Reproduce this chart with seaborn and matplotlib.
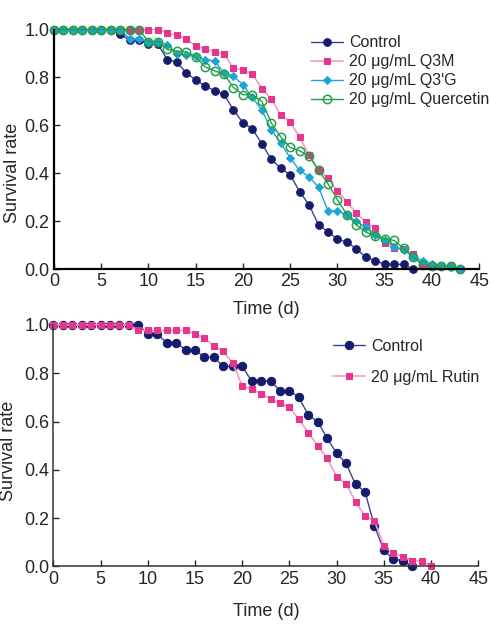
import numpy as np
import pandas as pd
import matplotlib
matplotlib.use("Agg")
import matplotlib.pyplot as plt
import seaborn as sns

# --- data (survival rate per day) ---
days_a = [0, 1, 2, 3, 4, 5, 6, 7, 8, 9, 10, 11, 12, 13, 14, 15, 16, 17, 18, 19, 20, 21,
          22, 23, 24, 25, 26, 27, 28, 29, 30, 31, 32, 33, 34, 35, 36, 37, 38, 39, 40, 41, 42, 43]

control_a = [1.0, 1.0, 1.0, 1.0, 1.0, 1.0, 1.0, 0.98, 0.958, 0.958, 0.938, 0.938, 0.875,
             0.864, 0.82, 0.79, 0.765, 0.745, 0.73, 0.664, 0.612, 0.585, 0.524, 0.458,
             0.422, 0.393, 0.324, 0.268, 0.185, 0.157, 0.125, 0.113, 0.085, 0.05, 0.036,
             0.02, 0.02, 0.02, 0.0]

q3m = [1.0, 1.0, 1.0, 1.0, 1.0, 1.0, 1.0, 1.0, 1.0, 1.0, 1.0, 1.0, 0.986, 0.976, 0.962,
       0.93, 0.92, 0.907, 0.897, 0.84, 0.83, 0.815, 0.754, 0.71, 0.643, 0.615, 0.55, 0.476,
       0.414, 0.38, 0.326, 0.282, 0.233, 0.196, 0.171, 0.108, 0.088, 0.083, 0.062, 0.018,
       0.016, 0.014, 0.012, 0.0]

q3g = [1.0, 1.0, 1.0, 1.0, 1.0, 1.0, 1.0, 1.0, 0.962, 0.962, 0.95, 0.95, 0.935, 0.9, 0.893,
       0.889, 0.875, 0.87, 0.818, 0.805, 0.77, 0.717, 0.664, 0.582, 0.526, 0.465, 0.412,
       0.386, 0.342, 0.244, 0.244, 0.226, 0.2, 0.175, 0.143, 0.122, 0.094, 0.08, 0.053,
       0.036, 0.022, 0.014, 0.01, 0.0]

quercetin = [1.0, 1.0, 1.0, 1.0, 1.0, 1.0, 1.0, 1.0, 1.0, 1.0, 0.95, 0.95, 0.917, 0.91,
             0.907, 0.886, 0.844, 0.828, 0.814, 0.758, 0.728, 0.728, 0.70, 0.61, 0.552,
             0.508, 0.494, 0.472, 0.414, 0.356, 0.29, 0.228, 0.185, 0.155, 0.139, 0.127,
             0.12, 0.087, 0.05, 0.018, 0.014, 0.014, 0.014, 0.0]

days_b = [0, 1, 2, 3, 4, 5, 6, 7, 8, 9, 10, 11, 12, 13, 14, 15, 16, 17, 18, 19, 20,
          21, 22, 23, 24, 25, 26, 27, 28, 29, 30, 31, 32, 33, 34, 35, 36, 37, 38, 39, 40]

control_b = [1.0, 1.0, 1.0, 1.0, 1.0, 1.0, 1.0, 1.0, 1.0, 1.0, 0.963, 0.963, 0.927, 0.927,
             0.897, 0.897, 0.866, 0.866, 0.828, 0.828, 0.828, 0.768, 0.768, 0.768, 0.728,
             0.728, 0.70, 0.627, 0.6, 0.53, 0.469, 0.427, 0.34, 0.31, 0.168, 0.068, 0.03,
             0.024, 0.0]

rutin = [1.0, 1.0, 1.0, 1.0, 1.0, 1.0, 1.0, 1.0, 1.0, 0.977, 0.977, 0.977, 0.977, 0.977,
         0.977, 0.963, 0.945, 0.913, 0.891, 0.841, 0.748, 0.734, 0.716, 0.692, 0.676, 0.659,
         0.609, 0.554, 0.499, 0.448, 0.372, 0.342, 0.268, 0.209, 0.19, 0.085, 0.055, 0.041,
         0.024, 0.024, 0.0]

x_ticks = [0, 5, 10, 15, 20, 25, 30, 35, 40, 45]
y_ticks = [0.0, 0.2, 0.4, 0.6, 0.8, 1.0]

# --- style ---
sns.set_style("ticks")
plt.rcParams["font.family"] = ["Liberation Sans", "DejaVu Sans"]
plt.rcParams["font.size"] = 13

fig = plt.figure(figsize=(4.9, 6.29), dpi=100)
ax1 = fig.add_axes([0.110, 0.572, 0.868, 0.381])
ax2 = fig.add_axes([0.109, 0.0994, 0.867, 0.384])

navy = "#151c6c"
navy_line = "#3a4296"
pink = "#e8348c"
pink_line = "#f49cc6"
cyan = "#1ba6d8"
green = "#23a047"

# top panel
sns.lineplot(x=days_a[:len(control_a)], y=control_a, ax=ax1, color=navy_line, lw=1.0,
             marker="o", markersize=5.5, markerfacecolor=navy, markeredgecolor=navy,
             label="Control", clip_on=False)
sns.lineplot(x=days_a, y=q3m, ax=ax1, color=pink_line, lw=1.2,
             marker="s", markersize=5, markerfacecolor=pink, markeredgecolor=pink,
             label="20 μg/mL Q3M", clip_on=False)
sns.lineplot(x=days_a, y=q3g, ax=ax1, color=cyan, lw=1.0,
             marker="D", markersize=4, markerfacecolor=cyan, markeredgecolor=cyan,
             label="20 μg/mL Q3'G", clip_on=False)
sns.lineplot(x=days_a, y=quercetin, ax=ax1, color=green, lw=1.0,
             marker="o", markersize=6, markerfacecolor="none", markeredgecolor=green,
             markeredgewidth=1.1, label="20 μg/mL Quercetin", clip_on=False)

# bottom panel
sns.lineplot(x=days_b[:len(control_b)], y=control_b, ax=ax2, color=navy_line, lw=1.0,
             marker="o", markersize=6, markerfacecolor=navy, markeredgecolor=navy,
             label="Control", clip_on=False)
sns.lineplot(x=days_b, y=rutin, ax=ax2, color=pink_line, lw=1.2,
             marker="s", markersize=5, markerfacecolor=pink, markeredgecolor=pink,
             label="20 μg/mL Rutin", clip_on=False)

for ax, spine_w, spine_c in [(ax1, 1.6, "black"), (ax2, 1.1, "#333333")]:
    ax.set_xlim(0, 45)
    ax.set_ylim(0, 1.0)
    ax.set_xticks(x_ticks)
    ax.set_yticks(y_ticks)
    ax.set_yticklabels([f"{v:.1f}" for v in y_ticks])
    ax.tick_params(direction="in", length=4, width=1, labelsize=13, pad=3)
    for s in ["top", "right"]:
        ax.spines[s].set_visible(False)
    for s in ["left", "bottom"]:
        ax.spines[s].set_linewidth(spine_w)
        ax.spines[s].set_color(spine_c)
    ax.set_ylabel("Survival rate", fontsize=13)

ax1.set_xlabel("Time (d)", fontsize=13, labelpad=8)
ax2.set_xlabel("Time (d)", fontsize=13, labelpad=11)
ax1.yaxis.set_label_coords(-0.078, 0.40)
ax2.yaxis.set_label_coords(-0.085, 0.48)

ax1.legend(loc="upper left", bbox_to_anchor=(0.586, 1.01), frameon=False, fontsize=11.5,
           borderpad=0, labelspacing=0.25, handlelength=2.0, handletextpad=0.4)
ax2.legend(loc="upper left", bbox_to_anchor=(0.639, 0.975), frameon=False, fontsize=11.5,
           borderpad=0, labelspacing=1.0, handlelength=2.0, handletextpad=0.4)

fig.savefig("out.png", dpi=100)
